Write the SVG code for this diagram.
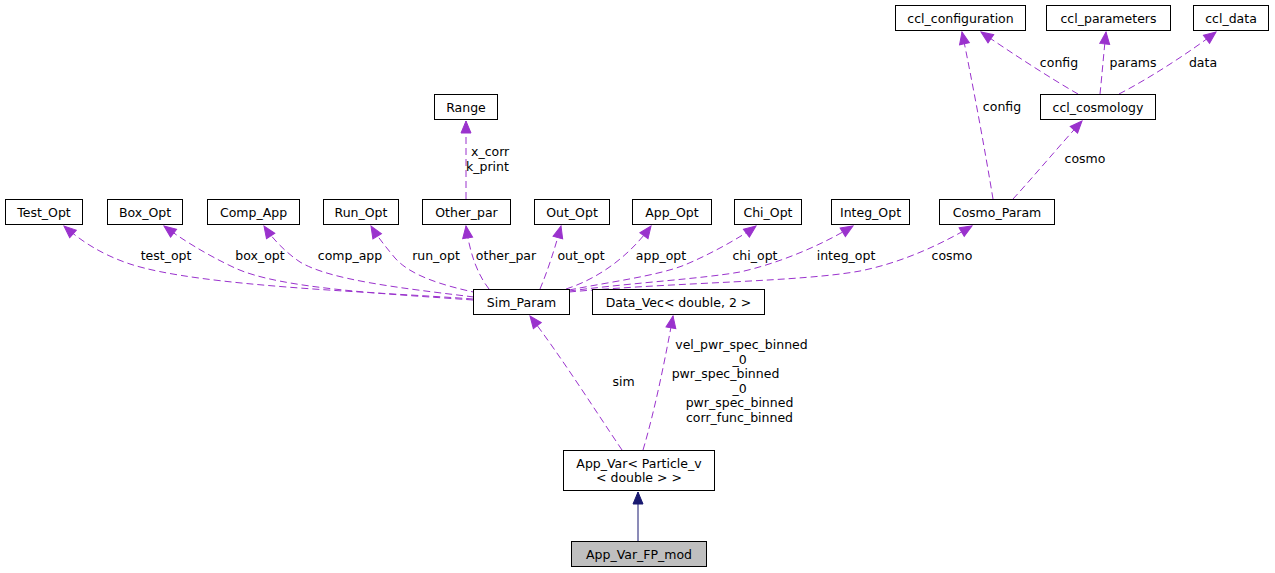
<svg xmlns="http://www.w3.org/2000/svg" width="1275" height="573" viewBox="0 0 1275 573">
<style>
.box{fill:#fff;stroke:#000;stroke-width:1}
.t{font-family:"DejaVu Sans","Liberation Sans",sans-serif;font-size:12.5px;fill:#000;text-anchor:middle}
.e{fill:none;stroke:#9a32cd;stroke-width:1;stroke-dasharray:7,4}
.b{fill:none;stroke:#191970;stroke-width:1}
</style>
<defs>
<marker id="ap" markerWidth="14" markerHeight="12" refX="12" refY="5" orient="auto" markerUnits="userSpaceOnUse" overflow="visible">
<path d="M0,0 L12,5 L0,10 Z" fill="#9a32cd" stroke="#9a32cd"/>
</marker>
<marker id="ab" markerWidth="14" markerHeight="12" refX="12" refY="5" orient="auto" markerUnits="userSpaceOnUse" overflow="visible">
<path d="M0,0 L12,5 L0,10 Z" fill="#191970" stroke="#191970"/>
</marker>
</defs>
<rect width="1275" height="573" fill="#fff"/>
<g id="connectors">
<path class="e" marker-end="url(#ap)" d="M473,299 C380,292 200,287 130,264 C100,254 80,240 64,226"/>
<path class="e" marker-end="url(#ap)" d="M473,300 C390,294 280,289 235,268 C205,254 180,238 164,226"/>
<path class="e" marker-end="url(#ap)" d="M474,297 C400,288 330,280 300,262 C285,252 272,238 264,226"/>
<path class="e" marker-end="url(#ap)" d="M478,293 C440,285 410,275 395,258 C385,246 377,236 371,226"/>
<path class="e" marker-end="url(#ap)" d="M489,289 C478,275 470,255 466,226"/>
<path class="e" marker-end="url(#ap)" d="M540,289 C548,270 555,248 561,226"/>
<path class="e" marker-end="url(#ap)" d="M566,289 C600,278 630,255 651,226"/>
<path class="e" marker-end="url(#ap)" d="M569,290 C610,282 655,276 682,266 C705,257 740,238 756,226"/>
<path class="e" marker-end="url(#ap)" d="M569,291 C640,282 700,279 740,272 C780,263 822,245 853,226"/>
<path class="e" marker-end="url(#ap)" d="M569,292 C680,282 800,282 860,271 C905,262 945,242 972,226"/>
<path class="e" marker-end="url(#ap)" d="M466,199 L466,121"/>
<path class="e" marker-end="url(#ap)" d="M993,199 C985,150 972,80 962,32"/>
<path class="e" marker-end="url(#ap)" d="M1013,199 C1035,175 1060,145 1082,121"/>
<path class="e" marker-end="url(#ap)" d="M1078,94 C1050,78 1010,52 981,32"/>
<path class="e" marker-end="url(#ap)" d="M1100,94 C1102,75 1104,50 1106,32"/>
<path class="e" marker-end="url(#ap)" d="M1119,94 C1150,78 1190,52 1216,32"/>
<path class="e" marker-end="url(#ap)" d="M622,450 C595,410 560,355 530,316"/>
<path class="e" marker-end="url(#ap)" d="M643,450 C655,410 666,355 673,316"/>
<path class="b" marker-end="url(#ab)" d="M638,541 L638,492"/>
<g class="t">
<text x="166" y="259.5">test_opt</text>
<text x="260" y="259.5">box_opt</text>
<text x="350" y="259.5">comp_app</text>
<text x="436" y="259.5">run_opt</text>
<text x="506" y="259.5">other_par</text>
<text x="581" y="259.5">out_opt</text>
<text x="661" y="259.5">app_opt</text>
<text x="755" y="259.5">chi_opt</text>
<text x="846" y="259.5">integ_opt</text>
<text x="952" y="259.5">cosmo</text>
<text x="1002" y="111">config</text>
<text x="1059" y="66.5">config</text>
<text x="1133" y="66.5">params</text>
<text x="1203" y="66.5">data</text>
<text x="1085" y="162.5">cosmo</text>
<text x="471" y="155.5" style="text-anchor:start">x_corr</text>
<text x="466" y="170.5" style="text-anchor:start">k_print</text>
<text x="623.5" y="386">sim</text>
<text x="741.5" y="349">vel_pwr_spec_binned</text>
<text x="739.5" y="363.5">_0</text>
<text x="725.5" y="378">pwr_spec_binned</text>
<text x="739.5" y="392.5">_0</text>
<text x="739.5" y="407">pwr_spec_binned</text>
<text x="739.5" y="422">corr_func_binned</text>
</g>
</g>
<g id="ccl_configuration"><rect class="box" x="895.5" y="5.5" width="130" height="25"/><text class="t" x="960.5" y="22.5">ccl_configuration</text></g>
<g id="ccl_parameters"><rect class="box" x="1046.5" y="5.5" width="124" height="25"/><text class="t" x="1108.5" y="22.5">ccl_parameters</text></g>
<g id="ccl_data"><rect class="box" x="1193.5" y="5.5" width="75" height="25"/><text class="t" x="1231" y="22.5">ccl_data</text></g>
<g id="ccl_cosmology"><rect class="box" x="1040.5" y="94.5" width="115" height="25"/><text class="t" x="1098" y="111.5">ccl_cosmology</text></g>
<g id="Range"><rect class="box" x="434.5" y="94.5" width="63" height="25"/><text class="t" x="466" y="111.5">Range</text></g>
<g id="Test_Opt"><rect class="box" x="5.5" y="199.5" width="77" height="25"/><text class="t" x="44" y="216.5">Test_Opt</text></g>
<g id="Box_Opt"><rect class="box" x="107.5" y="199.5" width="75" height="25"/><text class="t" x="145" y="216.5">Box_Opt</text></g>
<g id="Comp_App"><rect class="box" x="207.5" y="199.5" width="92" height="25"/><text class="t" x="253.5" y="216.5">Comp_App</text></g>
<g id="Run_Opt"><rect class="box" x="323.5" y="199.5" width="75" height="25"/><text class="t" x="361" y="216.5">Run_Opt</text></g>
<g id="Other_par"><rect class="box" x="422.5" y="199.5" width="88" height="25"/><text class="t" x="466.5" y="216.5">Other_par</text></g>
<g id="Out_Opt"><rect class="box" x="534.5" y="199.5" width="75" height="25"/><text class="t" x="572" y="216.5">Out_Opt</text></g>
<g id="App_Opt"><rect class="box" x="632.5" y="199.5" width="79" height="25"/><text class="t" x="672" y="216.5">App_Opt</text></g>
<g id="Chi_Opt"><rect class="box" x="734.5" y="199.5" width="67" height="25"/><text class="t" x="768" y="216.5">Chi_Opt</text></g>
<g id="Integ_Opt"><rect class="box" x="831.5" y="199.5" width="78" height="25"/><text class="t" x="870.5" y="216.5">Integ_Opt</text></g>
<g id="Cosmo_Param"><rect class="box" x="939.5" y="199.5" width="115" height="25"/><text class="t" x="997" y="216.5">Cosmo_Param</text></g>
<g id="Sim_Param"><rect class="box" x="473.5" y="289.5" width="96" height="25"/><text class="t" x="521.5" y="306.5">Sim_Param</text></g>
<g id="Data_Vec"><rect class="box" x="592.5" y="289.5" width="172" height="25"/><text class="t" x="678.5" y="306.5">Data_Vec&lt; double, 2 &gt;</text></g>
<g id="App_Var"><rect class="box" x="563.5" y="450.5" width="151" height="40"/><text class="t" x="639" y="467.5">App_Var&lt; Particle_v</text><text class="t" x="639" y="482">&lt; double &gt; &gt;</text></g>
<g id="App_Var_FP_mod"><rect class="box" x="571.5" y="541.5" width="135" height="25" style="fill:#bfbfbf"/><text class="t" x="639" y="558.5">App_Var_FP_mod</text></g>
</svg>
